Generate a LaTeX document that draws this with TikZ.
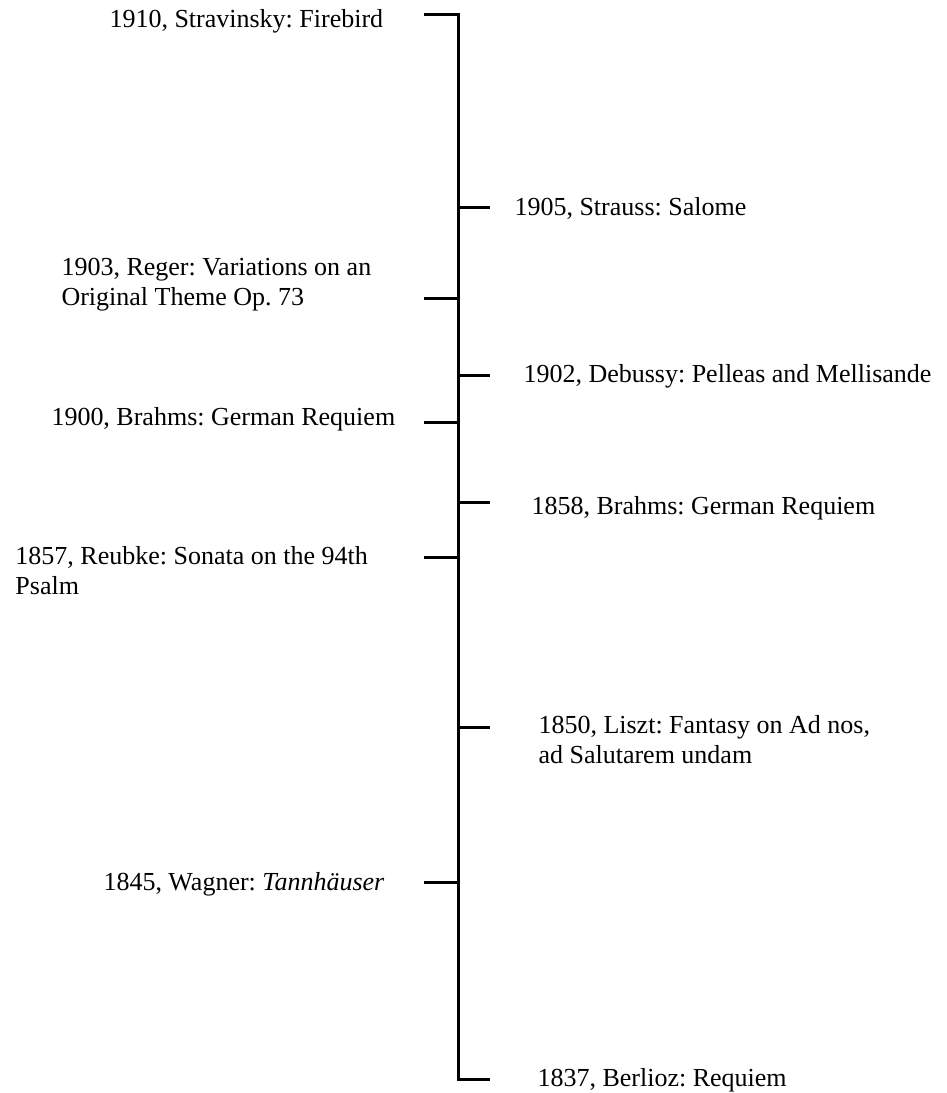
\documentclass[tikz,border=0pt]{standalone}
\usepackage{fontspec}
\setmainfont{Liberation Serif}
\frenchspacing

\begin{document}
\begin{tikzpicture}[x=0.5pt, y=-0.5pt, line width=1.5pt,
    event/.style={anchor=base west, align=left, inner sep=0pt, font=\fontsize{13}{15}\selectfont}]
  \useasboundingbox (0,0) rectangle (947,1093);

  % points on the time axis
  \coordinate (a1910) at (458,14);
  \coordinate (a1905) at (458,207);
  \coordinate (a1903) at (458,298);
  \coordinate (a1902) at (458,375);
  \coordinate (a1900) at (458,422);
  \coordinate (a1858) at (458,502);
  \coordinate (a1857) at (458,557);
  \coordinate (a1850) at (458,727);
  \coordinate (a1845) at (458,882);
  \coordinate (a1837) at (458,1079);

  % tick ends
  \coordinate (t1910) at (424,14);
  \coordinate (t1905) at (490,207);
  \coordinate (t1903) at (424,298);
  \coordinate (t1902) at (490,375);
  \coordinate (t1900) at (424,422);
  \coordinate (t1858) at (490,502);
  \coordinate (t1857) at (424,557);
  \coordinate (t1850) at (490,727);
  \coordinate (t1845) at (424,882);
  \coordinate (t1837) at (490,1079);

  \draw (t1910) -- (a1910) -- (a1837) -- (t1837);
  \draw (a1905) -- (t1905);
  \draw (a1903) -- (t1903);
  \draw (a1902) -- (t1902);
  \draw (a1900) -- (t1900);
  \draw (a1858) -- (t1858);
  \draw (a1857) -- (t1857);
  \draw (a1850) -- (t1850);
  \draw (a1845) -- (t1845);

  % labels (base = last line)
  \node[event] (e1910) at (108,27) {1910, Stravinsky: Firebird};
  \node[event] (e1905) at (513,215) {1905, Strauss: Salome};
  \node[event] (e1903) at (60,305) {1903, Reger: Variations on an\\Original Theme Op. 73};
  \node[event] (e1902) at (522,382) {1902, Debussy: Pelleas and Mellisande};
  \node[event] (e1900) at (50,425) {1900, Brahms: German Requiem};
  \node[event] (e1858) at (530,514) {1858, Brahms: German Requiem};
  \node[event] (e1857) at (14,594) {1857, Reubke: Sonata on the 94th\\Psalm};
  \node[event] (e1850) at (537,763) {1850, Liszt: Fantasy on Ad nos,\\ad Salutarem undam};
  \node[event] (e1845) at (102,890) {1845, Wagner: \textit{Tannhäuser}};
  \node[event] (e1837) at (536,1086) {1837, Berlioz: Requiem};
\end{tikzpicture}
\end{document}
